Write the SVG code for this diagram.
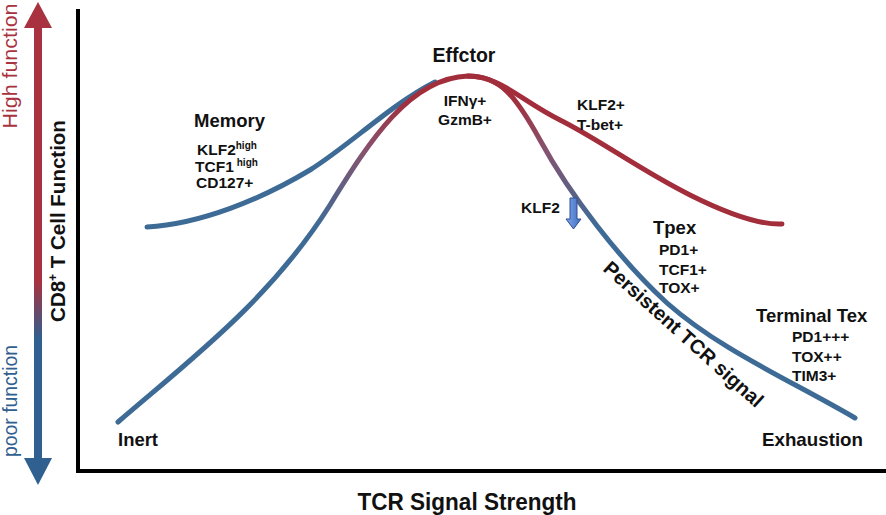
<svg xmlns="http://www.w3.org/2000/svg" width="886" height="515" viewBox="0 0 886 515">
<style>
text{font-family:"Liberation Sans",Arial,sans-serif;fill:#111;}
.b{font-weight:bold;}
.t14{font-size:15.5px;font-weight:bold;}
.t18{font-size:18.5px;font-weight:bold;}
.sup{font-size:10px;font-weight:bold;}
.curve{fill:none;stroke-width:5;stroke-linecap:round;}
.blue{stroke:#3e6b96;}
.red{stroke:#a22d3b;}
</style>
<defs>
<linearGradient id="axisGrad" gradientUnits="userSpaceOnUse" x1="0" y1="0" x2="0" y2="485">
<stop offset="0" stop-color="#a8323f"/>
<stop offset="0.58" stop-color="#a8323f"/>
<stop offset="0.70" stop-color="#2f6090"/>
<stop offset="1" stop-color="#2f6090"/>
</linearGradient>
<linearGradient id="bellGrad" gradientUnits="userSpaceOnUse" x1="0" y1="76" x2="0" y2="225">
<stop offset="0" stop-color="#a22d3b"/>
<stop offset="0.15" stop-color="#a22d3b"/>
<stop offset="0.5" stop-color="#86526e"/>
<stop offset="1" stop-color="#3e6b96"/>
</linearGradient>
<linearGradient id="klfGrad" x1="0" y1="0" x2="1" y2="0">
<stop offset="0" stop-color="#7ea6e6"/>
<stop offset="1" stop-color="#3e6cc4"/>
</linearGradient>
</defs>

<g id="y-axis-arrow">
<rect x="34" y="24" width="8" height="438" fill="url(#axisGrad)"/>
<polygon points="38,2 24,28 52,28" fill="#a8323f"/>
<polygon points="38,485 24,458 52,458" fill="#2f6090"/>
<text transform="translate(17,66) rotate(-90)" text-anchor="middle" font-size="20" style="fill:#a8323f" textLength="125" lengthAdjust="spacingAndGlyphs">High function</text>
<text transform="translate(17,401) rotate(-90)" text-anchor="middle" font-size="20" style="fill:#2f6090" textLength="112" lengthAdjust="spacingAndGlyphs">poor function</text>
<text class="b" transform="translate(65,221) rotate(-90)" text-anchor="middle" font-size="20.5">CD8<tspan font-size="12" dy="-8">+</tspan><tspan dy="8"> T Cell Function</tspan></text>
</g>

<g id="axes">
<polyline points="78,9 78,471 886,471" fill="none" stroke="#000" stroke-width="4"/>
<text class="b" x="467" y="510" text-anchor="middle" font-size="23" textLength="219" lengthAdjust="spacingAndGlyphs">TCR Signal Strength</text>
</g>

<g id="connectors">
<path class="curve blue" d="M147,227 C200,224 260,200 310,170 C350,145 390,105 435,82"/>
<path class="curve" stroke="url(#bellGrad)" d="M118,422 C190,360 270,300 330,205 C370,140 410,78 468,76 C500,76 515,95 540,140 C570,195 620,260 667,303 C720,350 790,380 855,418"/>
<path class="curve red" d="M468,76 C500,76 520,100 560,120 C600,140 640,170 690,195 C730,215 760,225 782,224"/>
</g>

<g id="memory">
<text class="t18" x="194" y="127">Memory</text>
<text class="t14" x="197" y="155">KLF2<tspan class="sup" dy="-6">high</tspan></text>
<text class="t14" x="195" y="172">TCF1<tspan class="sup" dx="3" dy="-6">high</tspan></text>
<text class="t14" x="196" y="188">CD127+</text>
</g>

<g id="effector">
<text class="b" x="464" y="62" text-anchor="middle" font-size="19.5">Effctor</text>
<text class="t14" x="465" y="106" text-anchor="middle">IFNγ+</text>
<text class="t14" x="465" y="125" text-anchor="middle">GzmB+</text>
</g>

<g id="klf2-tbet">
<text class="t14" x="577" y="110">KLF2+</text>
<text class="t14" x="577" y="130">T-bet+</text>
</g>

<g id="klf2-down">
<text class="t14" x="521" y="213">KLF2</text>
<polygon points="570,198 577,198 577,219 581,219 573.5,229 566,219 570,219" fill="url(#klfGrad)" stroke="#2f4f8f" stroke-width="1"/>
</g>

<g id="tpex">
<text class="t18" x="653" y="234">Tpex</text>
<text class="t14" x="659" y="255">PD1+</text>
<text class="t14" x="659" y="275">TCF1+</text>
<text class="t14" x="659" y="293">TOX+</text>
</g>

<g id="persistent">
<text class="b" transform="translate(602,270) rotate(42)" font-size="20" textLength="207" lengthAdjust="spacingAndGlyphs">Persistent TCR signal</text>
</g>

<g id="terminal-tex">
<text class="t18" x="756" y="322">Terminal Tex</text>
<text class="t14" x="792" y="342">PD1+++</text>
<text class="t14" x="792" y="362">TOX++</text>
<text class="t14" x="792" y="381">TIM3+</text>
</g>

<g id="inert">
<text class="b" x="118" y="446" font-size="18" textLength="40" lengthAdjust="spacingAndGlyphs">Inert</text>
</g>

<g id="exhaustion">
<text class="b" x="762" y="446" font-size="19" textLength="101" lengthAdjust="spacingAndGlyphs">Exhaustion</text>
</g>
</svg>
